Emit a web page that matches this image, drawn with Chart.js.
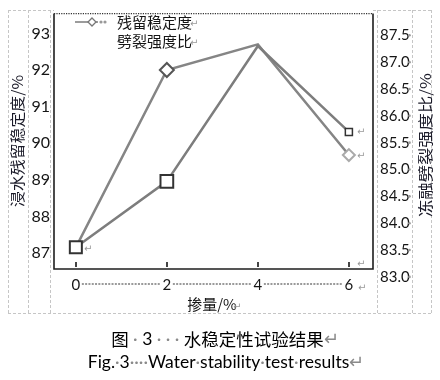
<!DOCTYPE html>
<html><head><meta charset="utf-8">
<script src="https://cdn.jsdelivr.net/npm/chart.js@4/dist/chart.umd.min.js"></script>
<style>html,body{margin:0;padding:0;background:#fff}#c{display:block}</style>
</head><body>
<canvas id="c" width="440" height="380"></canvas>
<script>
// ---- data ----
const dosage = [0, 2, 4, 6];
const xTickLabels = ['0', '2', '4', '6'];
const residualStability = [87.16, 92.0, 92.7, 89.68];     // left axis
const splitStrengthRatio = [83.55, 84.78, 87.3, 85.7];    // right axis
const leftTicks = [87, 88, 89, 90, 91, 92, 93];
const rightTicks = [83.0, 83.5, 84.0, 84.5, 85.0, 85.5, 86.0, 86.5, 87.0, 87.5];
const seriesNames = ['残留稳定度', '劈裂强度比'];
const leftTitle = '浸水残留稳定度/%';
const rightTitle = '冻融劈裂强度比/%';
const xTitle = '掺量/%';
// [text, isMark, isLatin]
const caption1 = [['图', 0, 0], [' · ', 1, 1], ['3', 0, 1], [' · · · ', 1, 1], ['水稳定性试验结果', 0, 0], ['↵', 1, 1]];
const caption2 = [['Fig.', 0, 1], ['·', 1, 1], ['3', 0, 1], ['····', 1, 1], ['Water', 0, 1], ['·', 1, 1], ['stability', 0, 1], ['·', 1, 1], ['test', 0, 1], ['·', 1, 1], ['results', 0, 1], ['↵', 1, 1]];

const NUM_FONT = 'Lato, "Open Sans", sans-serif';
const CJK_FONT = '"Noto Sans CJK SC", sans-serif';
const TXT = '#151515';

const decor = {
  id: 'decor',
  beforeDatasetsDraw(chart) {
    const c = chart.ctx, a = chart.chartArea;
    c.save();
    c.strokeStyle = '#c6c6c6'; c.lineWidth = 1; c.setLineDash([3, 2]);
    [8.5, 28.5, 50.5, 377.5, 412.5, 431.5].forEach(x => {
      c.beginPath(); c.moveTo(x, 10); c.lineTo(x, 313); c.stroke();
    });
    c.beginPath(); c.moveTo(8, 10.5); c.lineTo(54, 10.5); c.moveTo(373, 10.5); c.lineTo(432, 10.5);
    c.moveTo(8, 313.5); c.lineTo(432, 313.5); c.stroke();
    c.setLineDash([]);
    c.strokeStyle = '#1e1e1e'; c.lineWidth = 1.6;
    c.beginPath();
    c.moveTo(a.left, a.top); c.lineTo(a.left, a.bottom); c.lineTo(a.right, a.bottom); c.lineTo(a.right, a.top);
    c.stroke();
    c.setLineDash([1.2, 1.2]); c.lineWidth = 1.3; c.strokeStyle = '#333';
    c.beginPath(); c.moveTo(a.left, a.top); c.lineTo(a.right, a.top); c.stroke();
    c.setLineDash([]);
    const xs = chart.scales.x;
    c.strokeStyle = '#444'; c.lineWidth = 2;
    dosage.forEach(v => {
      const px = Math.round(xs.getPixelForValue(v));
      c.beginPath(); c.moveTo(px, a.bottom - 7); c.lineTo(px, a.bottom - 2); c.stroke();
    });
    c.strokeStyle = '#9a9a9a'; c.lineWidth = 2; c.setLineDash([2, 1.3]);
    for (let i = 0; i < dosage.length - 1; i++) {
      const p0 = xs.getPixelForValue(dosage[i]) + 6, p1 = xs.getPixelForValue(dosage[i + 1]) - 6;
      c.beginPath(); c.moveTo(p0, 284); c.lineTo(p1, 284); c.stroke();
    }
    c.setLineDash([]);
    c.restore();
  },
  afterDraw(chart) {
    const c = chart.ctx;
    const yR = chart.scales.yR;
    c.save();
    c.font = '15px ' + NUM_FONT; c.fillStyle = TXT; c.textAlign = 'left'; c.textBaseline = 'middle';
    rightTicks.forEach(v => {
      const py = yR.getPixelForValue(v);
      c.fillStyle = TXT; c.fillText(v.toFixed(1), 380, py);
      c.fillStyle = '#999'; c.beginPath(); c.arc(409.5, py, 1.3, 0, Math.PI * 2); c.fill();
    });
    const vtitle = (txt, cx, cy, len) => {
      c.save();
      c.font = '15px ' + CJK_FONT; c.fillStyle = '#1a1a28';
      c.textAlign = 'center'; c.textBaseline = 'middle';
      const w = c.measureText(txt).width;
      c.translate(cx, cy); c.rotate(-Math.PI / 2); c.scale(len / w, 1);
      c.fillText(txt, 0, 0);
      c.restore();
    };
    vtitle(leftTitle, 17, 141, 132);
    vtitle(rightTitle, 425, 145, 144);
    c.font = '15px ' + CJK_FONT; c.fillStyle = TXT; c.textAlign = 'center'; c.textBaseline = 'middle';
    c.fillText(xTitle, 212, 304);
    // legend
    c.strokeStyle = '#666'; c.lineWidth = 1.3;
    c.beginPath(); c.moveTo(75, 22); c.lineTo(98, 22); c.stroke();
    c.fillStyle = '#fff'; c.strokeStyle = '#777'; c.lineWidth = 1.3;
    c.beginPath(); c.moveTo(92, 18); c.lineTo(96, 22); c.lineTo(92, 26); c.lineTo(88, 22); c.closePath(); c.fill(); c.stroke();
    c.fillStyle = '#999';
    [101, 105].forEach(x => { c.beginPath(); c.arc(x, 22, 1.6, 0, Math.PI * 2); c.fill(); });
    c.font = '15px ' + CJK_FONT; c.fillStyle = TXT; c.textAlign = 'left';
    c.fillText(seriesNames[0], 117, 22);
    c.fillText(seriesNames[1], 117, 41);
    c.font = '10px "DejaVu Sans"'; c.fillStyle = '#9a9a9a';
    [[190, 24], [190, 43], [357, 132], [357, 156], [84, 249], [357, 264], [358, 288], [233, 307]].forEach(p => c.fillText('↵', p[0], p[1]));
    // captions
    const drawRuns = (runs, cx, cy, size) => {
      const fontOf = r => size + 'px ' + (r[2] ? NUM_FONT : CJK_FONT);
      const widthOf = r => { c.font = fontOf(r); return c.measureText(r[0]).width; };
      const total = runs.reduce((s, r) => s + widthOf(r), 0);
      let x = cx - total / 2;
      runs.forEach(r => {
        c.font = fontOf(r);
        c.fillStyle = r[1] ? '#8a8a8a' : '#000';
        c.fillText(r[0], x, cy);
        x += c.measureText(r[0]).width;
      });
    };
    c.textAlign = 'left'; c.textBaseline = 'middle';
    drawRuns(caption1, 225, 339, 17.5);
    drawRuns(caption2, 226, 362, 17.5);
    c.restore();
  }
};

new Chart(document.getElementById('c'), {
  type: 'line',
  data: {
    datasets: [
      {
        label: seriesNames[1],
        data: dosage.map((x, i) => ({ x, y: splitStrengthRatio[i] })),
        yAxisID: 'yR',
        borderColor: '#7d7d7d', borderWidth: 2.5, tension: 0,
        pointStyle: 'rect', pointRadius: [8.5, 9, 0, 5], pointBorderWidth: [2, 2, 0, 1.5],
        pointBorderColor: '#333', pointBackgroundColor: '#fff'
      },
      {
        label: seriesNames[0],
        data: dosage.map((x, i) => ({ x, y: residualStability[i] })),
        yAxisID: 'yL',
        borderColor: '#858585', borderWidth: 2.5, tension: 0,
        pointStyle: 'rectRot', pointRadius: [0, 7, 0, 6], pointBorderWidth: 2,
        pointBorderColor: ['#555', '#555', '#555', '#aaa'], pointBackgroundColor: '#fff'
      }
    ]
  },
  options: {
    responsive: false, animation: false,
    layout: { padding: { top: 10, bottom: 81, left: 0, right: 0 } },
    plugins: { legend: { display: false }, tooltip: { enabled: false } },
    scales: {
      x: {
        type: 'linear', min: -0.48, max: 6.53,
        grid: { display: false, drawTicks: false }, border: { display: false },
        afterBuildTicks: s => { s.ticks = dosage.map(v => ({ value: v })); },
        afterFit: s => { s.height = 30; },
        ticks: { font: { family: NUM_FONT, size: 15 }, color: TXT, padding: 7, maxRotation: 0, autoSkip: false,
                 callback: (v, i) => xTickLabels[i] }
      },
      yL: {
        position: 'left', min: 86.57, max: 93.54,
        grid: { display: false, drawTicks: false }, border: { display: false },
        afterBuildTicks: s => { s.ticks = leftTicks.map(v => ({ value: v })); },
        afterFit: s => { s.width = 54; },
        ticks: { font: { family: NUM_FONT, size: 16 }, color: TXT, padding: 4, autoSkip: false }
      },
      yR: {
        position: 'right', min: 83.147, max: 87.904,
        grid: { display: false, drawTicks: false }, border: { display: false },
        afterFit: s => { s.width = 67; },
        ticks: { display: false }
      }
    }
  },
  plugins: [decor]
});
</script>
</body></html>
